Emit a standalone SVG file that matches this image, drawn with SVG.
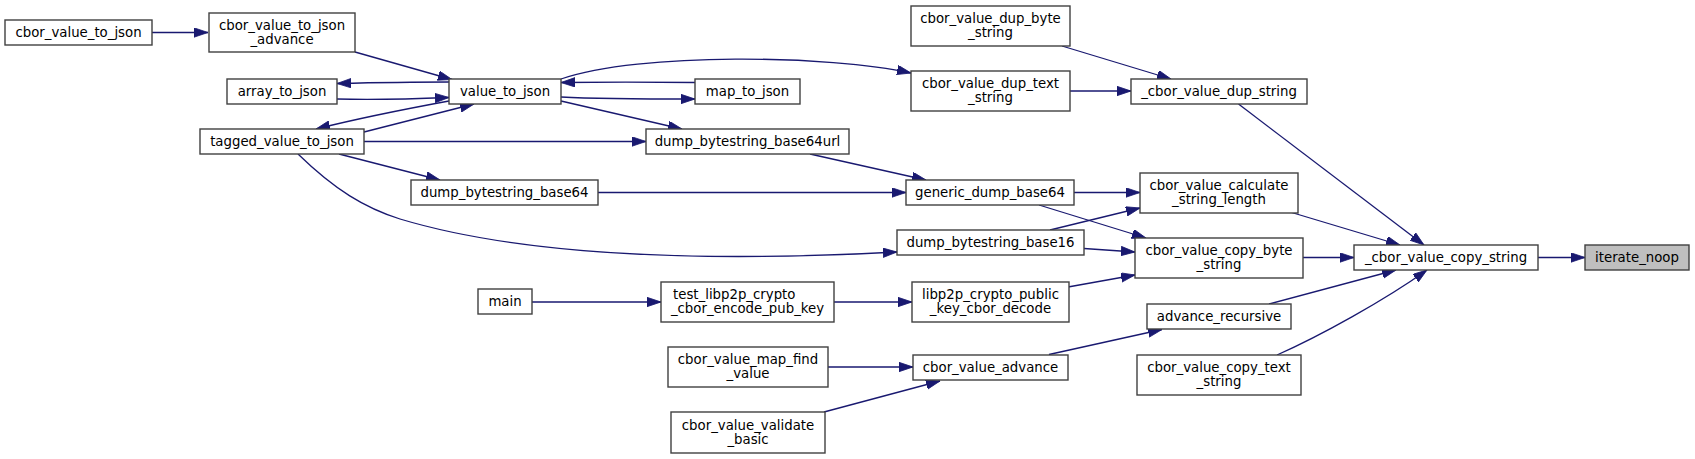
<svg xmlns="http://www.w3.org/2000/svg" width="1695" height="459" viewBox="0 0 1695 459">
<style>
.n rect{fill:#ffffff;stroke:#404040;stroke-width:1.4}
.n.hl rect{fill:#bfbfbf}
.n text{font-family:"DejaVu Sans",sans-serif;font-size:13.3px;fill:#000;text-anchor:middle}
.n text.l{text-anchor:start}
.e path{fill:none;stroke:#191970;stroke-width:1.3;marker-end:url(#ah)}
</style>
<defs>
<marker id="ah" markerUnits="userSpaceOnUse" markerWidth="15" markerHeight="11" refX="14" refY="4.7" orient="auto">
<path d="M0,0 L14,4.7 L0,9.4 z" fill="#191970" stroke="#191970" stroke-width="0.8"/>
</marker>
</defs>
<rect width="1695" height="459" fill="#ffffff"/>
<g class="e" id="edges">
<path d="M152,32.5 L208,32.5"/>
<path d="M355,52 L452,79.5"/>
<path d="M449,82 C420,82 380,82.5 337,83.5"/>
<path d="M337,99 C370,100 400,99.5 449,97.5"/>
<path d="M449,101 C400,110 360,118 316,129"/>
<path d="M364,132 L474,104"/>
<path d="M561,97 C600,99 650,99 695,99"/>
<path d="M695,82.5 C650,82 600,82 561,82.5"/>
<path d="M561,79 C640,52 830,55 911,73"/>
<path d="M561,101 L682,129"/>
<path d="M364,141.5 L646,141.5"/>
<path d="M339,154 L440,180"/>
<path d="M298,154 C335,190 365,208 400,219 C520,255 690,263 897,252"/>
<path d="M810,154 L926,180"/>
<path d="M598,192.5 L906,192.5"/>
<path d="M1074,192.5 L1140,192.5"/>
<path d="M1039,205 L1146,238"/>
<path d="M1050,230 L1140,208"/>
<path d="M1084,248.5 L1135,252"/>
<path d="M1068,287 L1135,275"/>
<path d="M532,302 L661,302"/>
<path d="M834,302 L912,302"/>
<path d="M828,367 L913,367"/>
<path d="M824,412 L940,381"/>
<path d="M1049,354.5 L1162,329.5"/>
<path d="M1062,46 L1171,79"/>
<path d="M1070,91 L1131,91"/>
<path d="M1238.5,104 L1424,245"/>
<path d="M1290,212 L1400,245"/>
<path d="M1303,257.5 L1354,257.5"/>
<path d="M1269,304 L1396,270"/>
<path d="M1277,355 C1320,336 1385,300 1427,270"/>
<path d="M1538,257.5 L1585,257.5"/>
</g>
<g class="n" id="n_cbor_value_to_json"><rect x="5" y="20" width="147" height="25"/><text x="78.5" y="36.5">cbor_value_to_json</text></g>
<g class="n" id="n_cbor_value_to_json_advance"><rect x="209" y="13" width="146" height="39"/><text x="282" y="29.5">cbor_value_to_json</text><text x="282" y="43.5">_advance</text></g>
<g class="n" id="n_array_to_json"><rect x="227" y="79" width="110" height="25"/><text x="282" y="95.5">array_to_json</text></g>
<g class="n" id="n_tagged_value_to_json"><rect x="200" y="129" width="164" height="25"/><text x="282" y="145.5">tagged_value_to_json</text></g>
<g class="n" id="n_value_to_json"><rect x="449" y="79" width="112" height="25"/><text x="505" y="95.5">value_to_json</text></g>
<g class="n" id="n_dump_bytestring_base64"><rect x="411" y="180" width="187" height="25"/><text x="504.5" y="196.5">dump_bytestring_base64</text></g>
<g class="n" id="n_main"><rect x="478" y="289" width="54" height="25"/><text x="505" y="305.5">main</text></g>
<g class="n" id="n_map_to_json"><rect x="695" y="79" width="105" height="25"/><text x="747.5" y="95.5">map_to_json</text></g>
<g class="n" id="n_dump_bytestring_base64url"><rect x="646" y="129" width="203" height="25"/><text x="747.5" y="145.5">dump_bytestring_base64url</text></g>
<g class="n" id="n_test_libp2p_crypto_cbor_encode_pub_key"><rect x="661" y="282" width="173" height="40"/><text class="l" x="673" y="299">test_libp2p_crypto</text><text x="747.5" y="313">_cbor_encode_pub_key</text></g>
<g class="n" id="n_cbor_value_map_find_value"><rect x="668" y="347" width="160" height="40"/><text x="748" y="364">cbor_value_map_find</text><text x="748" y="378">_value</text></g>
<g class="n" id="n_cbor_value_validate_basic"><rect x="671" y="412" width="154" height="41"/><text x="748" y="429.5">cbor_value_validate</text><text x="748" y="443.5">_basic</text></g>
<g class="n" id="n_cbor_value_dup_byte_string"><rect x="911" y="6" width="159" height="40"/><text x="990.5" y="23">cbor_value_dup_byte</text><text x="990.5" y="37">_string</text></g>
<g class="n" id="n_cbor_value_dup_text_string"><rect x="911" y="71" width="159" height="40"/><text x="990.5" y="88">cbor_value_dup_text</text><text x="990.5" y="102">_string</text></g>
<g class="n" id="n_generic_dump_base64"><rect x="906" y="180" width="168" height="25"/><text x="990" y="196.5">generic_dump_base64</text></g>
<g class="n" id="n_dump_bytestring_base16"><rect x="897" y="230" width="187" height="25"/><text x="990.5" y="246.5">dump_bytestring_base16</text></g>
<g class="n" id="n_libp2p_crypto_public_key_cbor_decode"><rect x="912" y="282" width="157" height="40"/><text x="990.5" y="299">libp2p_crypto_public</text><text x="990.5" y="313">_key_cbor_decode</text></g>
<g class="n" id="n_cbor_value_advance"><rect x="913" y="355" width="155" height="25"/><text x="990.5" y="371.5">cbor_value_advance</text></g>
<g class="n" id="n__cbor_value_dup_string"><rect x="1131" y="79" width="176" height="25"/><text x="1219" y="95.5">_cbor_value_dup_string</text></g>
<g class="n" id="n_cbor_value_calculate_string_length"><rect x="1140" y="173" width="158" height="40"/><text x="1219" y="190">cbor_value_calculate</text><text x="1219" y="204">_string_length</text></g>
<g class="n" id="n_cbor_value_copy_byte_string"><rect x="1135" y="238" width="168" height="40"/><text x="1219" y="255">cbor_value_copy_byte</text><text x="1219" y="269">_string</text></g>
<g class="n" id="n_advance_recursive"><rect x="1147" y="304" width="144" height="25"/><text x="1219" y="320.5">advance_recursive</text></g>
<g class="n" id="n_cbor_value_copy_text_string"><rect x="1137" y="355" width="164" height="40"/><text x="1219" y="372">cbor_value_copy_text</text><text x="1219" y="386">_string</text></g>
<g class="n" id="n__cbor_value_copy_string"><rect x="1354" y="245" width="184" height="25"/><text x="1446" y="261.5">_cbor_value_copy_string</text></g>
<g class="n hl" id="n_iterate_noop"><rect x="1585" y="245" width="104" height="25"/><text x="1637" y="261.5">iterate_noop</text></g>
</svg>
